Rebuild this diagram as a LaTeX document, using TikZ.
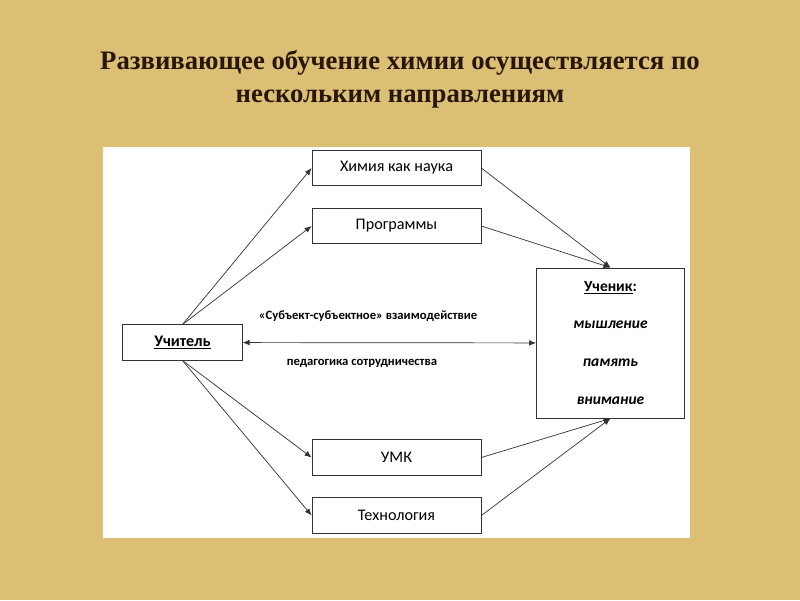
\documentclass[tikz,border=0pt]{standalone}
\usepackage{fontspec}
\setmainfont{Carlito}
\newfontfamily\titlefont{Liberation Serif}
\usetikzlibrary{arrows.meta}
\definecolor{slidebg}{RGB}{219,191,116}
\definecolor{titlebrown}{RGB}{40,22,8}
\tikzset{
  block/.style={draw=black!80, line width=0.6pt, fill=white, minimum width=4.22cm,
    minimum height=0.88cm, inner sep=2pt, font=\fontsize{11.5}{13}\selectfont},
  link/.style={draw=black!80, line width=0.5pt, -{Latex[length=5pt,width=4pt]}},
  note/.style={font=\fontsize{9}{11}\selectfont\bfseries}
}
\begin{document}
\begin{tikzpicture}[x=0.025cm,y=-0.025cm]
\fill[slidebg] (0,0) rectangle (800,600);
\useasboundingbox (0,0) rectangle (800,600);
\fill[white] (103,147) rectangle (690,538);

\node[align=center, text=titlebrown,
  font=\titlefont\bfseries\fontsize{19}{23.4}\selectfont] (title) at (400,79.5)
  {Развивающее обучение химии осуществляется по\\нескольким направлениям};

\node[block] (chem) at (396.5,168) {Химия как наука};
\node[block] (prog) at (396.5,226) {Программы};
\node[block, minimum width=2.98cm] (teacher) at (182.5,342.5) {\bfseries\underline{Учитель}};
\node[block, minimum width=3.7cm, minimum height=3.75cm, align=center,
  font=\fontsize{11}{27}\selectfont\bfseries] (pupil) at (610.5,343)
  {\underline{Ученик}:\\\textit{мышление}\\\textit{память}\\\textit{внимание}};
\node[block] (umk) at (396.5,457.5) {УМК};
\node[block] (tech) at (396.5,515.5) {Технология};

\node[note] (subj) at (368,316) {«Субъект-субъектное» взаимодействие};
\node[note] (coop) at (362,363) {педагогика сотрудничества};

\draw[link] (teacher.north) -- (chem.west);
\draw[link] (teacher.north) -- (prog.west);
\draw[link] (teacher.south) -- (umk.west);
\draw[link] (teacher.south) -- (tech.west);
\draw[link] (chem.east) -- (pupil.north);
\draw[link] (prog.east) -- (pupil.north);
\draw[link] (umk.east) -- (pupil.south);
\draw[link] (tech.east) -- (pupil.south);
\draw[link, {Latex[length=5pt,width=4pt]}-{Latex[length=5pt,width=4pt]}] (teacher) -- (pupil);
\end{tikzpicture}
\end{document}
